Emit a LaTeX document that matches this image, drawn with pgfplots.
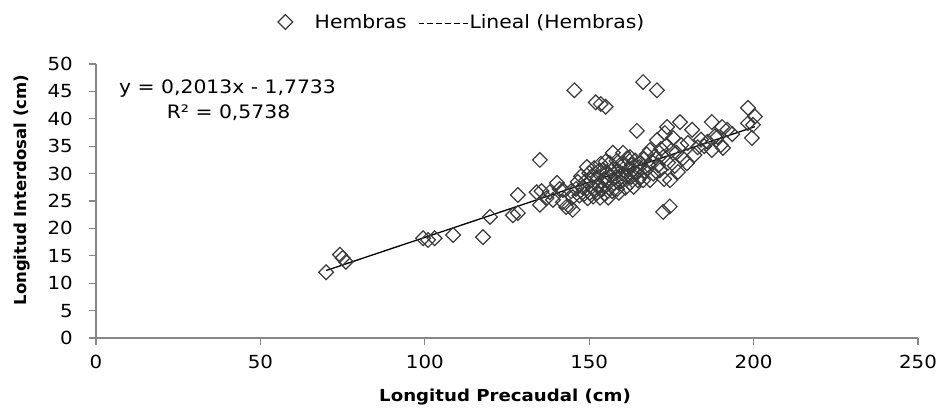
\documentclass[border=0pt]{standalone}
\usepackage{pgfplots}
\pgfplotsset{compat=1.18}
\usepackage{fontspec}
\setmainfont{DejaVu Sans}[FakeStretch=1.1]
\newfontfamily\plainfont{DejaVu Sans}
\definecolor{axisgray}{HTML}{868686}
\definecolor{markgray}{HTML}{3A3A3A}

\pgfplotsset{
  diamond legend/.style={legend image code/.code={\draw[##1] plot coordinates {(0pt,0pt)};}},
  dash legend/.style={legend image code/.code={\draw[black, line width=1.8pt, dash pattern=on 5.8pt off 3pt] (0pt,-1.5pt) -- (50pt,-1.5pt);}},
}

% Longitud precaudal (cm) vs longitud interdosal (cm), hembras
\pgfplotstableread{
x y
70 12
74.2 15.2
75 14.6
76 13.9
99.5 18.2
101 17.9
103 18.2
108.6 18.8
117.7 18.4
119.8 22.1
126.8 22.4
128.3 22.8
128.3 26.1
134 26.6
135 32.5
135 24.3
135.5 26.8
137 25.5
138 26.6
139 25.2
140.2 28.3
141 27.2
142 27
142 24.8
143 23.9
144 24
145 23.4
145 25.7
144.5 26.8
145.5 45.2
152 43
153.5 42.7
155 42.2
166.4 46.7
170.6 45.2
164.5 37.8
172.5 23
174.5 24
146 27.2
146.5 28.5
147 26
147.5 29.5
148 27.5
148.5 26.3
149 28.7
149.3 31.2
149.5 25.5
150 30.1
150.2 26.5
150.5 28.8
150.8 27.6
151 29.6
151.2 25.8
151.5 31
152 27
152.4 26.5
152.5 29.3
153 30.5
153 28
153.3 25.6
153.5 31.8
154 27.2
154.2 30.7
154.5 29
154.8 26.3
155 32.2
155.4 28.8
155.5 30.2
155.8 25.6
156 27.4
156.3 31.9
156.5 29.6
157 26.8
157.2 33.8
157.3 30.8
157.6 28.2
158 29.3
158.3 32.3
158.5 27.2
158.8 30.5
159 26.5
159.3 31.5
159.5 28.6
160 30
160.3 33.8
160.3 28.8
160.6 31.8
161 27.4
161.2 29.6
161.5 32.8
162 30.8
162.4 28.3
162.4 33
162.8 29.4
163 31.6
163.5 27.6
163.8 30.4
164 32.4
164.5 30.1
164.8 28.8
165.2 31.2
165.5 31.9
165.8 29.5
166.4 28.8
166.6 32.6
167 30.4
167.5 33.5
168 31.5
168.5 28.8
168.5 34.3
169 32.2
169.5 30
170 33.2
170.6 36.1
171 31.5
171.5 30.6
171.8 34.5
172.5 33
172.8 29
173 37.4
173.5 35.2
173.7 38.5
174 32
174.6 28.8
175 34.2
175.5 36.5
176 31.4
176.5 33.8
177 30.3
177.6 39.4
178 35.2
178.5 32.8
179.7 31.9
180 35.6
181.3 38
182 33.4
183 34.8
184 36.2
185 35
186 35.8
187.3 39.4
187.3 34.3
188.2 36.8
189 36.7
190 35.2
190.4 38.5
190.7 34.7
192 38
193.5 37.2
198.3 42
200.4 40.4
199.8 38.9
199.5 36.5
198.3 39.2
}\hembras

\begin{document}
\begin{tikzpicture}
\useasboundingbox (0,0) rectangle (945pt,408pt);
\begin{axis}[
  at={(96pt,70pt)}, anchor=south west,
  scale only axis, width=822pt, height=274pt,
  xmin=0, xmax=250, ymin=0, ymax=50,
  xtick={0,50,...,250}, ytick={0,5,...,50},
  axis x line*=bottom, axis y line*=left,
  axis line style={-, draw=axisgray, line width=1.3pt},
  tick align=outside, major tick length=7pt,
  tick style={draw=axisgray, line width=1.3pt},
  /pgf/number format/assume math mode=true,
  ticklabel style={font=\fontsize{18}{21}\selectfont, inner sep=0pt},
  xticklabel style={yshift=-10pt},
  yticklabel style={xshift=-16pt},
  xlabel={Longitud Precaudal (cm)},
  ylabel={Longitud Interdosal (cm)},
  xlabel style={font=\bfseries\fontsize{16.5}{20}\selectfont,
    at={(axis description cs:0.4976,-0.2150)}, anchor=center},
  ylabel style={font=\plainfont\bfseries\fontsize{16.5}{20}\selectfont,
    at={(axis description cs:-0.090,0.540)}, anchor=center},
  clip=false,
  legend columns=2,
  legend style={
    at={(axis description cs:0.2214,1.1533)}, anchor=west,
    draw=none, fill=none, inner sep=0pt, outer sep=0pt,
    font=\fontsize{18.5}{22}\selectfont,
    nodes={inner sep=0pt, outer sep=0pt},
    /tikz/column 1/.style={column sep=22pt},
    /tikz/column 2/.style={column sep=11pt},
    /tikz/column 3/.style={column sep=0pt},
  },
]
\addplot[only marks, mark=square, mark size=5.2pt,
  mark options={rotate=45, draw=markgray, line width=1.2pt, fill=none},
  diamond legend]
  table[x=x, y=y] {\hembras};
\addlegendentry{Hembras}
\addplot[black, line width=1.3pt, no marks, dash legend]
  coordinates {(70,12.3177) (200.4,38.5672)};
\addlegendentry{Lineal (Hembras)}
\node[anchor=base, inner sep=0pt, font=\fontsize{18.5}{22}\selectfont]
  at (axis cs:40.0,44.65) {y = 0,2013x - 1,7733};
\node[anchor=base, inner sep=0pt, font=\fontsize{18.5}{22}\selectfont]
  at (axis cs:40.3,40.09) {R² = 0,5738};
\end{axis}
\end{tikzpicture}
\end{document}
